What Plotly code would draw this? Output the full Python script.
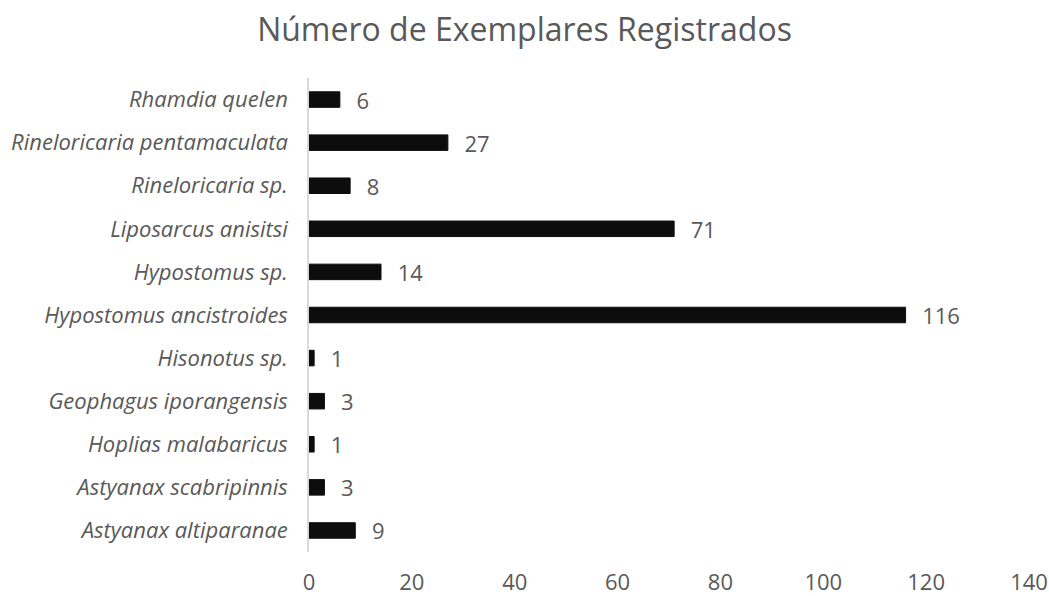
import plotly.graph_objects as go

species = [
    "Astyanax altiparanae",
    "Astyanax scabripinnis",
    "Hoplias malabaricus",
    "Geophagus iporangensis",
    "Hisonotus sp.",
    "Hypostomus ancistroides",
    "Hypostomus sp.",
    "Liposarcus anisitsi",
    "Rineloricaria sp.",
    "Rineloricaria pentamaculata",
    "Rhamdia quelen",
]
counts = [9, 3, 1, 3, 1, 116, 14, 71, 8, 27, 6]
x_ticks = [0, 20, 40, 60, 80, 100, 120, 140]

gray = "#595959"
font_family = "'Open Sans', sans-serif"

fig = go.Figure(
    go.Bar(
        x=counts,
        y=species,
        orientation="h",
        marker=dict(color="#0d0d0d", line=dict(color="#0d0d0d", width=1)),
        text=counts,
        texttemplate="\u200a  %{x}",
        textposition="outside",
        constraintext="none",
        textfont=dict(color=gray, size=22, family=font_family),
        cliponaxis=False,
        width=0.36,
    )
)

fig.update_layout(
    width=1049,
    height=596,
    paper_bgcolor="white",
    plot_bgcolor="white",
    margin=dict(l=309, r=20, t=78, b=44, autoexpand=False),
    title=dict(
        text="Número de Exemplares Registrados",
        x=0.5,
        xanchor="center",
        y=1 - 30 / 596,
        yanchor="middle",
        font=dict(size=32, color=gray, family=font_family),
    ),
    showlegend=False,
    font=dict(family=font_family, color=gray),
)

fig.update_xaxes(
    range=[0, 140],
    tickvals=x_ticks,
    showgrid=False,
    zeroline=False,
    showline=False,
    automargin=False,
    tickfont=dict(size=22, color=gray, family=font_family),
    ticklabelstandoff=15,
)

fig.update_yaxes(
    categoryorder="array",
    categoryarray=species,
    range=[-0.5, len(species) - 0.5],
    showline=True,
    linecolor="#d9d9d9",
    linewidth=1.5,
    showgrid=False,
    ticks="",
    automargin=False,
    tickfont=dict(size=22, color=gray, family=font_family, style="italic"),
    ticklabelstandoff=15,
)

fig.write_html(
    "out.html",
    config={"displayModeBar": False},
    post_script="document.body.style.margin='0';",
)
